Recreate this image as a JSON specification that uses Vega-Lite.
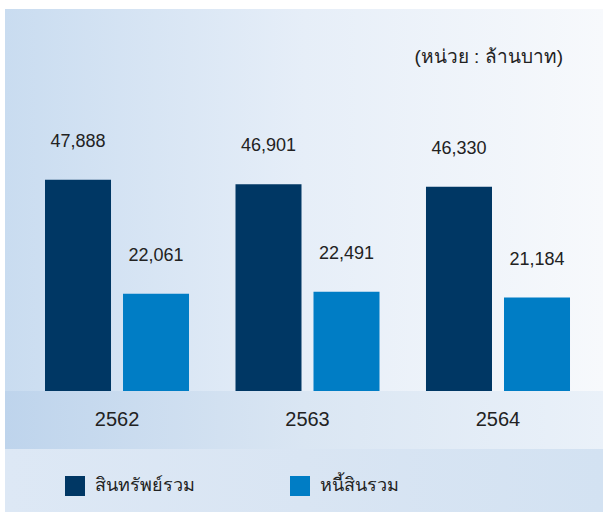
{
  "$schema": "https://vega.github.io/schema/vega-lite/v6.json",
  "width": 598,
  "height": 503,
  "autosize": {"type": "none"},
  "padding": {"left": 5, "top": 9, "right": 0, "bottom": 0},
  "background": "#ffffff",
  "config": {
    "view": {"stroke": null},
    "font": "Liberation Sans",
    "text": {"font": "Liberation Sans"}
  },
  "title": {
    "text": "(หน่วย : ล้านบาท)",
    "orient": "top",
    "anchor": "end",
    "frame": "group",
    "offset": -58,
    "dx": -40,
    "fontSize": 19,
    "fontWeight": "normal",
    "color": "#222222",
    "font": "Liberation Sans"
  },
  "data": {
    "values": [
      {"year": "2562", "type": "สินทรัพย์รวม", "value": 47888},
      {"year": "2562", "type": "หนี้สินรวม", "value": 22061},
      {"year": "2563", "type": "สินทรัพย์รวม", "value": 46901},
      {"year": "2563", "type": "หนี้สินรวม", "value": 22491},
      {"year": "2564", "type": "สินทรัพย์รวม", "value": 46330},
      {"year": "2564", "type": "หนี้สินรวม", "value": 21184}
    ]
  },
  "layer": [
    {
      "mark": {
        "type": "rect",
        "fill": {"gradient": "linear", "x1": 0, "y1": 0, "x2": 1, "y2": 0,
          "stops": [{"offset": 0, "color": "#c9dcf0"}, {"offset": 0.5, "color": "#e6eef8"}, {"offset": 1, "color": "#f7f9fc"}]}
      },
      "encoding": {
        "y": {"datum": 86633, "type": "quantitative", "scale": {"domain": [-27441, 86633], "nice": false, "zero": false}, "axis": null},
        "y2": {"datum": 0}
      }
    },
    {
      "mark": {
        "type": "rect",
        "fill": {"gradient": "linear", "x1": 0, "y1": 0, "x2": 1, "y2": 0,
          "stops": [{"offset": 0, "color": "#bed4ec"}, {"offset": 0.5, "color": "#dae6f3"}, {"offset": 1, "color": "#eaf1f9"}]}
      },
      "encoding": {
        "y": {"datum": 0, "type": "quantitative"},
        "y2": {"datum": -13154}
      }
    },
    {
      "mark": {
        "type": "rect",
        "fill": {"gradient": "linear", "x1": 0, "y1": 0, "x2": 1, "y2": 0,
          "stops": [{"offset": 0, "color": "#dde8f5"}, {"offset": 0.5, "color": "#d9e5f3"}, {"offset": 1, "color": "#d3e2f2"}]}
      },
      "encoding": {
        "y": {"datum": -13154, "type": "quantitative"},
        "y2": {"datum": -27441}
      }
    },
    {
      "mark": {"type": "bar"},
      "encoding": {
        "x": {
          "field": "year", "type": "nominal",
          "scale": {"paddingInner": 0.244, "paddingOuter": 0.1916, "align": 0.548},
          "axis": {"orient": "bottom", "title": null, "domain": false, "ticks": false, "labelAngle": 0, "labelFontSize": 20, "labelColor": "#222222", "labelPadding": 0, "offset": -93, "labelBaseline": "middle", "labelFont": "Liberation Sans", "zindex": 1}
        },
        "xOffset": {"field": "type", "type": "nominal", "sort": ["สินทรัพย์รวม", "หนี้สินรวม"], "scale": {"paddingInner": 0.1538, "paddingOuter": 0}},
        "y": {"field": "value", "type": "quantitative"},
        "y2": {"datum": 0},
        "color": {
          "field": "type", "type": "nominal",
          "sort": ["สินทรัพย์รวม", "หนี้สินรวม"],
          "scale": {"domain": ["สินทรัพย์รวม", "หนี้สินรวม"], "range": ["#003764", "#007dc5"]},
          "legend": {
            "title": null, "orient": "none", "direction": "horizontal",
            "legendX": 60, "legendY": 467, "padding": 0,
            "symbolType": "square", "symbolSize": 400, "symbolStrokeWidth": 0,
            "labelFontSize": 18, "labelColor": "#222222", "labelOffset": 10,
            "columnPadding": 95, "labelFont": "Liberation Sans"
          }
        }
      }
    },
    {
      "mark": {"type": "text", "dy": -38, "fontSize": 18, "color": "#222222", "baseline": "middle"},
      "encoding": {
        "x": {"field": "year", "type": "nominal"},
        "xOffset": {"field": "type", "type": "nominal", "sort": ["สินทรัพย์รวม", "หนี้สินรวม"]},
        "y": {"field": "value", "type": "quantitative"},
        "text": {"field": "value", "type": "quantitative", "format": ","}
      }
    }
  ]
}
